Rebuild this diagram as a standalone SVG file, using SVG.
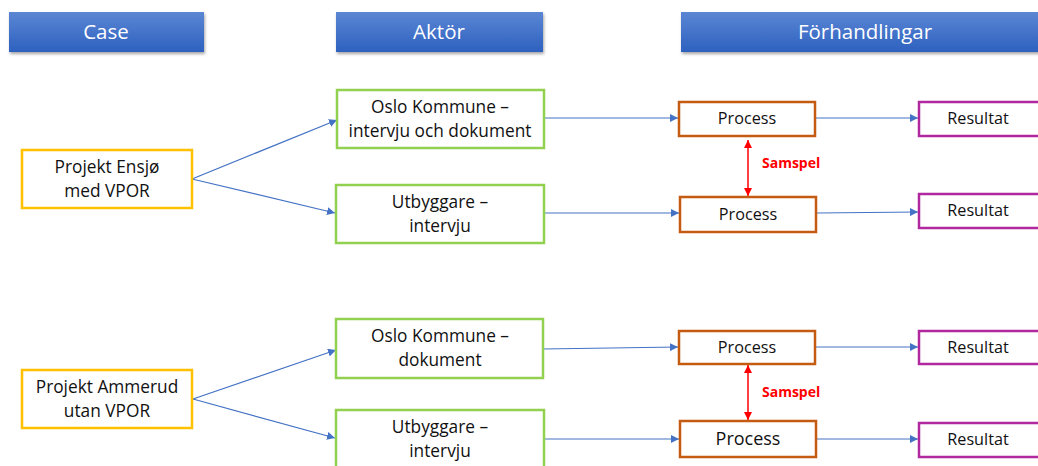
<svg xmlns="http://www.w3.org/2000/svg" width="1038" height="466" viewBox="0 0 1038 466">
<style>
.hdr{fill:url(#hg);filter:url(#sh)}
.ht{font-family:"Open Sans","Liberation Sans",Arial,sans-serif;font-size:20.5px;fill:#fff;text-anchor:middle}
.t{font-family:"Open Sans","Liberation Sans",Arial,sans-serif;font-size:17.3px;fill:#111;text-anchor:middle}
.t2{font-family:"Open Sans","Liberation Sans",Arial,sans-serif;font-size:16.2px;fill:#111;text-anchor:middle}
.case{fill:#fff;stroke:#FFC000;stroke-width:2.5}
.akt{fill:#fff;stroke:#92D050;stroke-width:2.5}
.proc{fill:#fff;stroke:#C55A11;stroke-width:2.5}
.res{fill:#fff;stroke:#B0279E;stroke-width:2.5}
.c{stroke:#4472C4;stroke-width:1.2;fill:none;marker-end:url(#ab)}
.s{stroke:#FF0000;stroke-width:1.5;fill:none;marker-start:url(#ar);marker-end:url(#ar)}
.st{font-family:"Open Sans","Liberation Sans",Arial,sans-serif;font-size:14px;font-weight:bold;fill:#FF0000}
</style>
<defs>
<linearGradient id="hg" x1="0" y1="0" x2="0" y2="1">
<stop offset="0" stop-color="#5b86d4"/>
<stop offset="1" stop-color="#2d61bf"/>
</linearGradient>
<filter id="sh" x="-5%" y="-20%" width="115%" height="160%">
<feDropShadow dx="1" dy="2" stdDeviation="1.5" flood-color="#000" flood-opacity="0.35"/>
</filter>
<marker id="ab" viewBox="0 0 10 10" refX="10" refY="5" markerWidth="8" markerHeight="8" markerUnits="userSpaceOnUse" orient="auto">
<path d="M0,0 L10,5 L0,10 z" fill="#4472C4"/>
</marker>
<marker id="ar" viewBox="0 0 10 10" refX="10" refY="5" markerWidth="8" markerHeight="8" markerUnits="userSpaceOnUse" orient="auto-start-reverse">
<path d="M0,0 L10,5 L0,10 z" fill="#FF0000"/>
</marker>
</defs>
<g id="h-case"><rect class="hdr" x="9" y="12" width="195" height="40"/><text class="ht" x="106" y="39">Case</text></g>
<g id="h-aktor"><rect class="hdr" x="336" y="12" width="207" height="40"/><text class="ht" x="439" y="39">Aktör</text></g>
<g id="h-forh"><rect class="hdr" x="681" y="12" width="370" height="40"/><text class="ht" x="865" y="39">Förhandlingar</text></g>

<g id="connectors">
<line class="c" x1="192" y1="179" x2="337" y2="120"/>
<line class="c" x1="192" y1="179" x2="335" y2="213"/>
<line class="c" x1="544" y1="118" x2="678" y2="118"/>
<line class="c" x1="544" y1="213" x2="679" y2="213"/>
<line class="c" x1="816" y1="118" x2="918" y2="118"/>
<line class="c" x1="817" y1="213" x2="918" y2="212"/>
<line class="s" x1="748" y1="140" x2="748" y2="196"/>
<line class="c" x1="193" y1="399" x2="336" y2="350"/>
<line class="c" x1="193" y1="399" x2="335" y2="438"/>
<line class="c" x1="543" y1="349" x2="678" y2="347"/>
<line class="c" x1="544" y1="439" x2="679" y2="439"/>
<line class="c" x1="816" y1="347" x2="918" y2="347"/>
<line class="c" x1="817" y1="439" x2="918" y2="439"/>
<line class="s" x1="748" y1="365" x2="748" y2="420"/>
</g>
<text class="st" x="762" y="168">Samspel</text>
<text class="st" x="762" y="397">Samspel</text>

<g id="case1"><rect class="case" x="22" y="150" width="170" height="58"/><text class="t" x="107" y="173">Projekt Ensjø</text><text class="t" x="107" y="197">med VPOR</text></g>
<g id="case2"><rect class="case" x="22" y="370" width="170" height="58"/><text class="t" x="107" y="393">Projekt Ammerud</text><text class="t" x="107" y="417">utan VPOR</text></g>

<g id="akt1"><rect class="akt" x="337" y="90" width="207" height="58"/><text class="t" x="440" y="113">Oslo Kommune –</text><text class="t" x="440" y="137">intervju och dokument</text></g>
<g id="akt2"><rect class="akt" x="336" y="185" width="208" height="58"/><text class="t" x="440" y="208">Utbyggare –</text><text class="t" x="440" y="232">intervju</text></g>
<g id="akt3"><rect class="akt" x="336" y="319" width="207" height="59"/><text class="t" x="440" y="342">Oslo Kommune –</text><text class="t" x="440" y="366">dokument</text></g>
<g id="akt4"><rect class="akt" x="336" y="410" width="208" height="62"/><text class="t" x="440" y="433">Utbyggare –</text><text class="t" x="440" y="457">intervju</text></g>

<g id="proc1"><rect class="proc" x="679" y="102" width="136" height="34"/><text class="t2" x="747" y="124">Process</text></g>
<g id="proc2"><rect class="proc" x="680" y="197" width="136" height="35"/><text class="t2" x="748" y="220">Process</text></g>
<g id="proc3"><rect class="proc" x="679" y="331" width="136" height="33"/><text class="t2" x="747" y="353">Process</text></g>
<g id="proc4"><rect class="proc" x="680" y="421" width="136" height="36"/><text class="t2" x="748" y="445" style="font-size:18px">Process</text></g>

<g id="res1"><rect class="res" x="919" y="102" width="125" height="34"/><text class="t2" x="978" y="124">Resultat</text></g>
<g id="res2"><rect class="res" x="919" y="194" width="125" height="34"/><text class="t2" x="978" y="216">Resultat</text></g>
<g id="res3"><rect class="res" x="919" y="331" width="125" height="33"/><text class="t2" x="978" y="353">Resultat</text></g>
<g id="res4"><rect class="res" x="919" y="423" width="125" height="34"/><text class="t2" x="978" y="445">Resultat</text></g>
</svg>
